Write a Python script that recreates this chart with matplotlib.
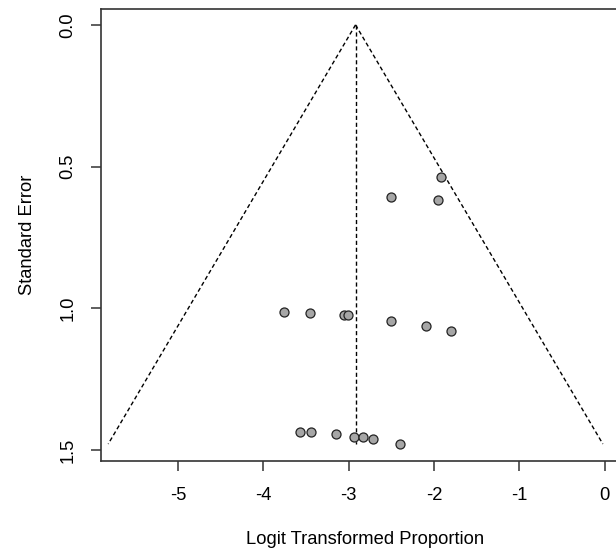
import matplotlib
matplotlib.use('Agg')
import matplotlib.pyplot as plt
import numpy as np

plt.rcParams['font.family'] = ['Liberation Sans', 'DejaVu Sans']

# study estimates (logit proportion) and their standard errors
logit_prop = [-1.92, -2.50, -1.95,
              -3.76, -3.45, -3.05, -3.01, -2.50, -2.09, -1.80,
              -3.57, -3.44, -3.15, -2.94, -2.83, -2.71, -2.40]
std_err = [0.538, 0.606, 0.619,
           1.013, 1.017, 1.025, 1.025, 1.044, 1.062, 1.081,
           1.438, 1.437, 1.445, 1.453, 1.456, 1.462, 1.479]
pooled = -2.92

x_ticks = [-5, -4, -3, -2, -1, 0]
y_ticks = [0.0, 0.5, 1.0, 1.5]

fig = plt.figure(figsize=(6.16, 5.53), dpi=100)
ax = fig.add_axes([100.7/616, 92/553, (630-100.7)/616, (461-9)/553])

# funnel: pooled estimate +/- 1.96*se, down to the largest se
se_max = max(std_err)
se_line = np.array([0, se_max])
dash = dict(color='black', lw=1, dashes=(3, 2))
ax.plot(pooled - 1.96*se_line, se_line, **dash)
ax.plot(pooled + 1.96*se_line, se_line, **dash)
ax.plot([pooled, pooled], se_line, **dash)

ax.plot(logit_prop, std_err, 'o', ms=6.5, mfc='#a6a6a6', mec='#222222', mew=0.9)

ax.set_xlim(-5.907, 0.297)
ax.set_ylim(1.539, -0.056)
ax.set_xticks(x_ticks)
ax.set_xticklabels([str(t) for t in x_ticks])
ax.set_yticks(y_ticks)
ax.set_yticklabels(['%.1f' % t for t in y_ticks], rotation=90, va='center')

for s in ax.spines.values():
    s.set_color('#333333')
    s.set_linewidth(1.2)
ax.tick_params(direction='out', length=7.5, width=1.1, color='#333333',
               labelsize=13.2)
ax.tick_params(axis='x', pad=11)
ax.tick_params(axis='y', pad=10)

ax.set_xlabel('Logit Transformed Proportion', fontsize=13.2, labelpad=20)
ax.set_ylabel('Standard Error', fontsize=13.2, labelpad=17)

fig.savefig('out.png', dpi=100)
